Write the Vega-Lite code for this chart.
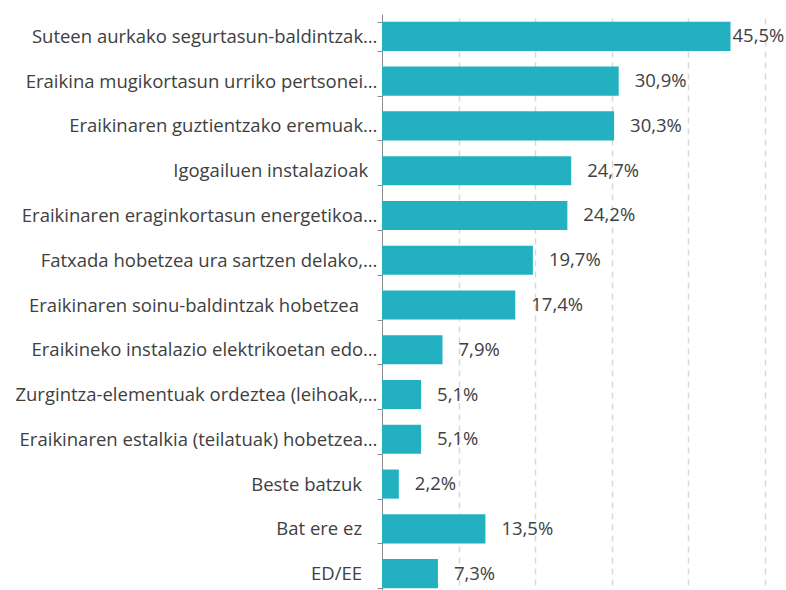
{
  "$schema": "https://vega.github.io/schema/vega-lite/v6.json",
  "autosize": "none",
  "padding": {"left": 382, "top": 14, "right": 21, "bottom": 0},
  "width": 383,
  "height": 582,
  "background": "white",
  "config": {"view": {"stroke": null}, "font": "Open Sans"},
  "data": {"values": [
    {"cat": "Suteen aurkako segurtasun-baldintzak…", "v": 45.5, "lab": "45,5%"},
    {"cat": "Eraikina mugikortasun urriko pertsonei…", "v": 30.9, "lab": "30,9%"},
    {"cat": "Eraikinaren guztientzako eremuak…", "v": 30.3, "lab": "30,3%"},
    {"cat": "Igogailuen instalazioak\u2002\u200b", "v": 24.7, "lab": "24,7%"},
    {"cat": "Eraikinaren eraginkortasun energetikoa…", "v": 24.2, "lab": "24,2%"},
    {"cat": "Fatxada hobetzea ura sartzen delako,…", "v": 19.7, "lab": "19,7%"},
    {"cat": "Eraikinaren soinu-baldintzak hobetzea\u2003\u200b", "v": 17.4, "lab": "17,4%"},
    {"cat": "Eraikineko instalazio elektrikoetan edo…", "v": 7.9, "lab": "7,9%"},
    {"cat": "Zurgintza-elementuak ordeztea (leihoak,…", "v": 5.1, "lab": "5,1%"},
    {"cat": "Eraikinaren estalkia (teilatuak) hobetzea…", "v": 5.1, "lab": "5,1%"},
    {"cat": "Beste batzuk\u2002\u2004\u200b", "v": 2.2, "lab": "2,2%"},
    {"cat": "Bat ere ez\u2002\u2004\u200b", "v": 13.5, "lab": "13,5%"},
    {"cat": "ED/EE\u2002\u2004\u200b", "v": 7.3, "lab": "7,3%"}
  ]},
  "encoding": {
    "y": {"field": "cat", "type": "nominal", "sort": null,
      "scale": {"paddingInner": 0.35, "paddingOuter": 0.175},
      "axis": {"title": null, "tickBand": "extent", "tickSize": 5, "labelPadding": 0,
        "labelFontSize": 18.5, "labelColor": "#404040", "labelFont": "Open Sans",
        "domainColor": "#8C8C8C", "tickColor": "#8C8C8C", "labelLimit": 400, "grid": false}},
    "x": {"field": "v", "type": "quantitative",
      "scale": {"domain": [0, 50], "nice": false},
      "axis": {"title": null, "labels": false, "ticks": false, "domain": false,
        "values": [10, 20, 30, 40, 50], "grid": true, "gridColor": "#D9D9D9",
        "gridDash": [6, 5], "gridWidth": 1.5}}
  },
  "layer": [
    {"mark": {"type": "bar", "color": "#23B1C1"}},
    {"transform": [{"filter": "datum.v < 40"}],
     "mark": {"type": "text", "align": "left", "dx": 16, "fontSize": 18.5, "color": "#404040", "font": "Open Sans"},
     "encoding": {"text": {"field": "lab"}}},
    {"transform": [{"filter": "datum.v >= 40"}],
     "mark": {"type": "text", "align": "left", "dx": 2, "fontSize": 18.5, "color": "#404040", "font": "Open Sans"},
     "encoding": {"text": {"field": "lab"}}}
  ]
}
